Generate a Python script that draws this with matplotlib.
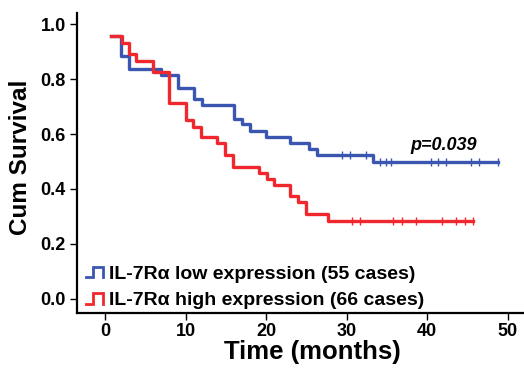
import numpy as np
import matplotlib
matplotlib.use('Agg')
import matplotlib.pyplot as plt
from matplotlib.lines import Line2D
from matplotlib.legend_handler import HandlerBase

plt.rcParams['font.family'] = ['Liberation Sans', 'DejaVu Sans']

# Kaplan-Meier curves
low_times = [0.8, 1.95, 3.0, 6.95, 9.0, 11.0, 12.0, 16.0, 17.05, 18.0, 20.0, 22.95, 25.3, 26.3, 33.3]
low_surv = [0.957, 0.885, 0.836, 0.815, 0.767, 0.726, 0.704, 0.656, 0.635, 0.611, 0.588, 0.567, 0.544, 0.522, 0.497]
low_end = 48.8
low_censor = [29.4, 30.4, 32.4, 34.1, 34.9, 35.5, 40.4, 41.3, 42.3, 45.4, 46.4, 48.8]

high_times = [0.8, 2.06, 3.0, 3.9, 6.0, 8.0, 10.0, 10.9, 11.9, 13.9, 14.9, 15.9, 19.1, 20.1, 21.0, 22.9, 23.9, 24.9, 27.7]
high_surv = [0.957, 0.93, 0.89, 0.867, 0.824, 0.714, 0.65, 0.625, 0.588, 0.567, 0.525, 0.48, 0.458, 0.436, 0.415, 0.373, 0.353, 0.309, 0.284]
high_end = 45.7
high_censor = [30.6, 31.6, 35.7, 36.8, 38.6, 41.8, 43.6, 44.7, 45.7]

labels = ['IL-7R\u03b1 low expression (55 cases)', 'IL-7R\u03b1 high expression (66 cases)']
blue = '#3A56B0'
red = '#F0282E'


class StepHandler(HandlerBase):
    def create_artists(self, legend, orig_handle, xdescent, ydescent, width, height, fontsize, trans):
        xs = np.array([0.0, 0.35, 0.35, 0.8, 0.8]) * width - xdescent
        ys = np.array([0.1, 0.1, 0.85, 0.85, 0.1]) * height - ydescent
        ln = Line2D(xs, ys, color=orig_handle.get_color(), lw=2.0,
                    solid_joinstyle='miter', transform=trans)
        return [ln]


def km(ax, times, surv, end, censor, color, label):
    t = list(times) + [end]
    s = list(surv) + [surv[-1]]
    line, = ax.step(t, s, where='post', color=color, lw=2.4, label=label)
    idx = np.searchsorted(times, censor, side='right') - 1
    cs = np.array(surv)[idx]
    ax.plot(censor, cs, ls='none', marker='|', ms=6, mew=1.0, color=color)
    return line


fig = plt.figure(figsize=(5.24, 3.73), dpi=100)
ax = fig.add_axes([0.147, 0.161, 0.853, 0.804])

l1 = km(ax, low_times, low_surv, low_end, low_censor, blue, labels[0])
l2 = km(ax, high_times, high_surv, high_end, high_censor, red, labels[1])

ax.set_xlim(-3.47, 52)
ax.set_ylim(-0.051, 1.04)
ax.set_xticks([0, 10, 20, 30, 40, 50])
ax.set_yticks([0.0, 0.2, 0.4, 0.6, 0.8, 1.0])
ax.set_yticklabels(['0.0', '0.2', '0.4', '0.6', '0.8', '1.0'])

for sp in ['top', 'right']:
    ax.spines[sp].set_visible(False)
for sp in ['left', 'bottom']:
    ax.spines[sp].set_linewidth(1.6)

ax.tick_params(direction='out', length=5, width=1, labelsize=13, pad=2)
ax.tick_params(axis='y', pad=3)
for lab in ax.get_xticklabels() + ax.get_yticklabels():
    lab.set_fontweight('bold')

ax.set_xlabel('Time (months)', fontsize=18.5, fontweight='bold')
ax.set_ylabel('Cum Survival', fontsize=17.5, fontweight='bold')
ax.xaxis.set_label_coords(0.526, -0.09)
ax.yaxis.set_label_coords(-0.10, 0.52)

ax.text(37.9, 0.54, 'p=0.039', fontsize=13, fontweight='bold', style='italic')

ax.legend([l1, l2], labels, handler_map={Line2D: StepHandler()},
          loc='lower left', bbox_to_anchor=(0.012, 0.0), frameon=False,
          prop={'size': 14, 'weight': 'bold'}, handlelength=1.05,
          handletextpad=0.1, labelspacing=0.45, borderaxespad=0.0, borderpad=0.2)

fig.savefig('out.png', dpi=100)
